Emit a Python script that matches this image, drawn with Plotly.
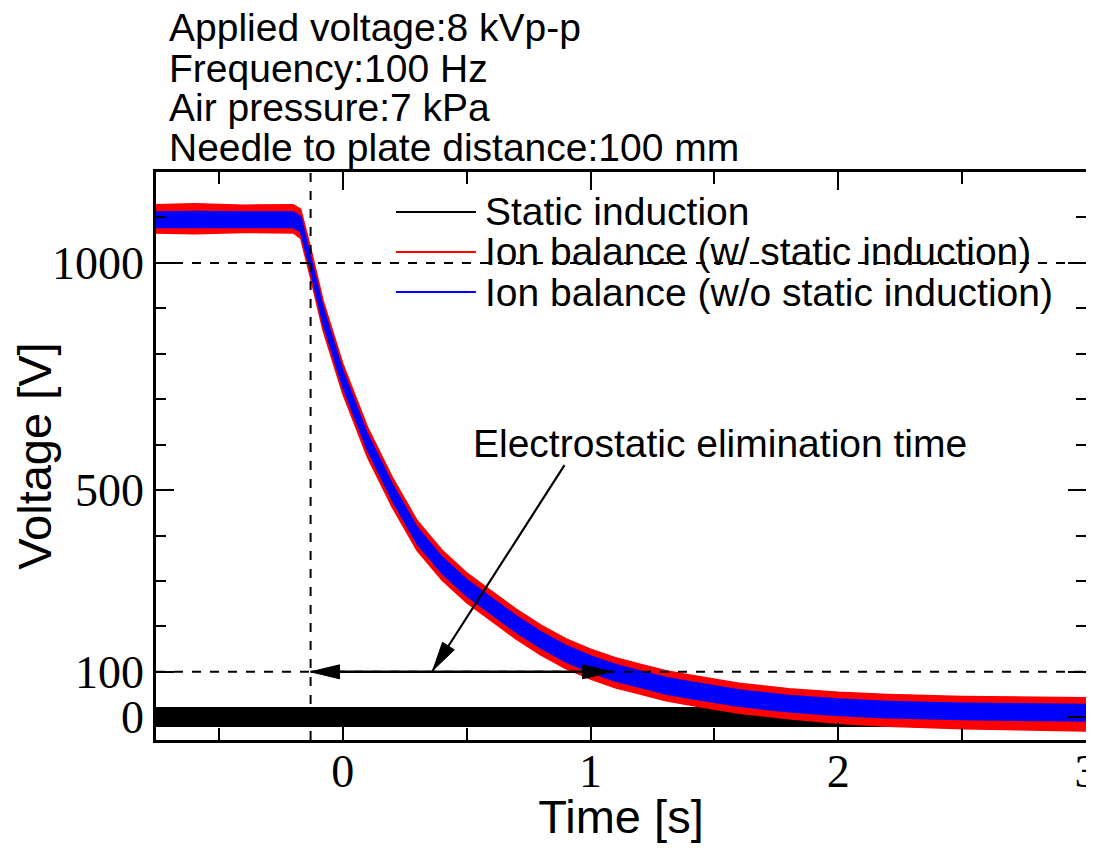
import plotly.graph_objects as go

# ---------------- data ----------------
time_s = [-0.754, -0.6, -0.4, -0.2, -0.17, -0.15, -0.13, -0.08, 0.0, 0.1, 0.2, 0.3,
          0.4, 0.5, 0.6, 0.7, 0.8, 0.9, 1.0, 1.1, 1.2, 1.3, 1.4, 1.6, 1.8, 2.0,
          2.2, 2.5, 2.8, 3.0]

# Ion balance (w/ static induction) – red noise envelope [V]
red_upper = [1128, 1130, 1127, 1128, 1118, 1075, 1033, 918, 778, 638, 528, 433,
             368, 318, 278, 238, 203, 173, 150, 131, 117, 103, 93, 75, 63, 55,
             50, 46, 44, 43]
red_lower = [1066, 1064, 1067, 1066, 1054, 1008, 967, 852, 712, 572, 462, 367,
             302, 252, 212, 172, 137, 107, 84, 65, 51, 37, 27, 9, -3, -13,
             -20, -25, -28, -30]

# Ion balance (w/o static induction) – blue noise envelope [V]
blue_upper = [1112, 1113, 1112, 1112, 1102, 1058, 1018, 903, 763, 623, 513, 418,
              353, 303, 263, 223, 188, 158, 135, 116, 102, 88, 78, 60, 48, 40,
              35, 31, 29, 28]
blue_lower = [1078, 1077, 1078, 1078, 1068, 1022, 982, 867, 727, 587, 477, 382,
              317, 267, 227, 187, 152, 122, 99, 80, 66, 52, 42, 24, 12, 4,
              -1, -5, -7, -8]

# Static induction – black noise envelope [V]
static_time = [-0.754, 3.0]
static_upper = [21, 21]
static_lower = [-20, -20]

# reference markers
t_start = -0.13          # start of decay (vertical dashed line)
t_end = 1.085            # voltage reaches 100 V
v_levels = [1000, 100]   # horizontal dashed lines
v_threshold = 100

x_range = [-0.754, 3.0]
y_range = [-50, 1200]
y_tickvals = [0, 100, 500, 1000]
y_ticktext = ["0", "100", "500", "1000"]
x_tickvals = [0, 1, 2, 3]

condition_lines = ["Applied voltage:8 kVp-p", "Frequency:100 Hz",
                   "Air pressure:7 kPa", "Needle to plate distance:100 mm"]
legend_names = ["Static induction", "Ion balance (w/ static induction)",
                "Ion balance (w/o static induction)"]
legend_colors = ["#000000", "#FF0000", "#0000FF"]

SANS = "Liberation Sans, Arial, sans-serif"
SERIF = "Liberation Serif, Times New Roman, serif"

fig = go.Figure()


def band(t, up, lo, color, name):
    fig.add_trace(go.Scatter(
        x=list(t) + list(t)[::-1], y=list(up) + list(lo)[::-1],
        fill="toself", fillcolor=color, mode="lines",
        line=dict(color=color, width=1.5), name=name, showlegend=False,
        hoverinfo="skip"))


band(static_time, static_upper, static_lower, legend_colors[0], legend_names[0])
band(time_s, red_upper, red_lower, legend_colors[1], legend_names[1])
band(time_s, blue_upper, blue_lower, legend_colors[2], legend_names[2])

shapes = []
dash = dict(color="black", width=2, dash="dash")
shapes.append(dict(type="line", xref="x", yref="paper", x0=t_start, x1=t_start,
                   y0=0, y1=1, line=dash, layer="above"))
for v in v_levels:
    shapes.append(dict(type="line", xref="paper", yref="y", x0=0, x1=1,
                       y0=v, y1=v, line=dash, layer="above"))

# double-headed arrow (electrostatic elimination time)
shapes.append(dict(type="line", xref="x", yref="y", x0=t_start, x1=t_end,
                   y0=v_threshold, y1=v_threshold,
                   line=dict(color="black", width=2.5), layer="above"))
head = dict(type="path", xref="x", yref="y", xsizemode="pixel",
            ysizemode="pixel", fillcolor="black",
            line=dict(color="black", width=1), layer="above")
shapes.append(dict(head, xanchor=t_start, yanchor=v_threshold,
                   path="M0,0 L29,7 L29,-7 Z"))
shapes.append(dict(head, xanchor=t_end, yanchor=v_threshold,
                   path="M0,0 L-29,7 L-29,-7 Z"))

# pointer from the label to the arrow
ptr_from = (0.895, 555)
ptr_to = (0.363, v_threshold + 3)
shapes.append(dict(type="line", xref="x", yref="y", x0=ptr_from[0],
                   y0=ptr_from[1], x1=ptr_to[0], y1=ptr_to[1],
                   line=dict(color="black", width=2.2), layer="above"))
shapes.append(dict(head, xanchor=ptr_to[0], yanchor=ptr_to[1],
                   path="M0,0 L21.6,20.6 L9.8,28.2 Z"))

# manual legend
leg_y = [0.9296, 0.8592, 0.7887]
for yy, col in zip(leg_y, legend_colors):
    shapes.append(dict(type="line", xref="paper", yref="paper", x0=0.258,
                       x1=0.344, y0=yy, y1=yy,
                       line=dict(color=col, width=2)))

annotations = []
for yy, name in zip(leg_y, legend_names):
    annotations.append(dict(xref="paper", yref="paper", x=0.3516, y=yy,
                            xanchor="left", yanchor="middle", text=name,
                            showarrow=False,
                            font=dict(family=SANS, size=39, color="black")))

cond_y = [1.255, 1.1816, 1.1127, 1.0423]
for yy, txt in zip(cond_y, condition_lines):
    annotations.append(dict(xref="paper", yref="paper", x=0.012, y=yy,
                            xanchor="left", yanchor="middle", text=txt,
                            showarrow=False,
                            font=dict(family=SANS, size=39, color="black")))

annotations.append(dict(xref="x", yref="y", x=1.524, y=603,
                        xanchor="center", yanchor="middle",
                        text="Electrostatic elimination time", showarrow=False,
                        font=dict(family=SANS, size=39, color="black")))

# the page body adds an 8 px offset on every side, so the figure is made
# smaller so that the page does not overflow the 1094x851 window, while the
# plot frame stays at the reference position
fig.update_layout(
    width=1086, height=835,
    margin=dict(l=148, r=8, t=164, b=103, autoexpand=False),
    paper_bgcolor="white", plot_bgcolor="white",
    shapes=shapes, annotations=annotations, showlegend=False,
    xaxis=dict(range=x_range, tickvals=x_tickvals, ticks="inside",
               ticklen=18, tickwidth=2, tickcolor="black",
               minor=dict(dtick=0.5, ticks="inside", ticklen=12, tickwidth=2,
                          tickcolor="black", showgrid=False),
               showline=True, linewidth=2.5, linecolor="black", mirror="ticks",
               showgrid=False, zeroline=False, automargin=False,
               ticklabeloverflow="allow", ticklabelstandoff=-11,
               tickfont=dict(family=SERIF, size=46, color="black"),
               title=dict(text="Time [s]", standoff=24,
                          font=dict(family=SANS, size=47, color="black"))),
    yaxis=dict(range=y_range, tickvals=y_tickvals, ticktext=y_ticktext,
               ticks="inside", ticklen=18, tickwidth=2, tickcolor="black",
               minor=dict(dtick=100, tick0=0, ticks="inside", ticklen=10,
                          tickwidth=2, tickcolor="black", showgrid=False),
               showline=True, linewidth=2.5, linecolor="black", mirror="ticks",
               showgrid=False, zeroline=False, automargin=False,
               ticklabeloverflow="allow",
               tickfont=dict(family=SERIF, size=46, color="black"),
               title=dict(text="Voltage [V]", standoff=4,
                          font=dict(family=SANS, size=47, color="black"))),
)

fig.write_html("out.html")
